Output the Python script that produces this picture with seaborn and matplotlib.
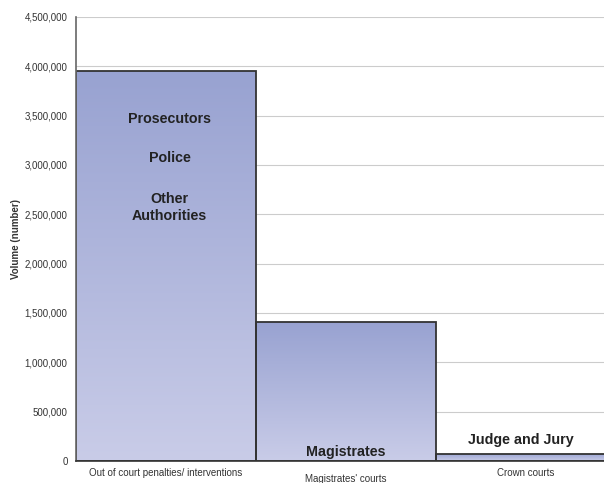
import numpy as np
import pandas as pd
import matplotlib
matplotlib.use("Agg")
import matplotlib.pyplot as plt
import seaborn as sns
from matplotlib.colors import LinearSegmentedColormap

categories = ["Out of court penalties/ interventions", "Magistrates' courts", "Crown courts"]
volumes = [3955000, 1410000, 72000]
yticks = [0, 500000, 1000000, 1500000, 2000000, 2500000, 3000000, 3500000, 4000000, 4500000]

sns.set_theme(style="white")
plt.rcParams['font.family'] = ['Liberation Sans', 'DejaVu Sans']

W, H = 604, 483
fig = plt.figure(figsize=(W / 100, H / 100), dpi=100)
left, right, top, bottom = 76, 616, 17, 461
ax = fig.add_axes([left / W, 1 - bottom / H, (right - left) / W, (bottom - top) / H])

df = pd.DataFrame({"cat": categories, "vol": volumes})
sns.barplot(data=df, x="cat", y="vol", ax=ax, width=1.0, color="#aab2da",
            edgecolor="#333333", linewidth=1.3, zorder=2)

ax.set_ylim(0, 4500000)
ax.set_xlim(-0.5, 2.5)
ax.set_yticks(yticks)
ax.set_yticklabels([f"{v:,}" for v in yticks], fontsize=7, color="#333333")
ax.yaxis.grid(True, color="#cccccc", linewidth=0.8, zorder=0)
ax.set_axisbelow(True)

cmap = LinearSegmentedColormap.from_list("g", ["#c9cce8", "#98a2d1"])
grad = np.linspace(0, 1, 256).reshape(-1, 1)
for p in ax.patches:
    x0, y0 = p.get_x(), p.get_y()
    w, h = p.get_width(), p.get_height()
    p.set_facecolor("none")
    im = ax.imshow(grad, cmap=cmap, aspect="auto", origin="lower",
                   extent=[x0, x0 + w, y0, y0 + h], zorder=1.5)
    im.set_clip_path(p)
ax.set_xlim(-0.5, 2.5)
ax.set_ylim(0, 4500000)

# x ticks: labels at centers without marks, marks at boundaries
ax.set_xticks([0, 1, 2])
ax.set_xticklabels(categories, fontsize=7, color="#333333")
ax.tick_params(axis="x", length=0, pad=5)
for i, lbl in enumerate(ax.get_xticklabels()):
    if i == 1:
        lbl.set_y(-0.013)
ax.set_xticks([0.5, 1.5], minor=True)
ax.tick_params(axis="x", which="minor", length=5, color="#333333", width=1, direction="out")
ax.tick_params(axis="y", length=4, color="#333333", width=1, direction="out", pad=2)

ax.set_xlabel("")
ax.set_ylabel("Volume (number)", fontsize=7, fontweight="bold", color="#333333", labelpad=3)

for s in ["top", "right"]:
    ax.spines[s].set_visible(False)
ax.spines["left"].set_color("#666666")
ax.spines["left"].set_linewidth(1.2)
ax.spines["bottom"].set_color("#333333")
ax.spines["bottom"].set_linewidth(1.2)

tkw = dict(ha="center", va="center", fontweight="bold", color="#222222", zorder=5)
ax.text(0.02, 3470000, "Prosecutors", fontsize=10.3, **tkw)
ax.text(0.02, 3075000, "Police", fontsize=10.3, **tkw)
ax.text(0.02, 2570000, "Other\nAuthorities", fontsize=10.3, linespacing=1.35, **tkw)
ax.text(1.0, 92000, "Magistrates", fontsize=10.3, **tkw)
ax.text(1.97, 210000, "Judge and Jury", fontsize=10.3, **tkw)

fig.savefig("out.png", dpi=100)
